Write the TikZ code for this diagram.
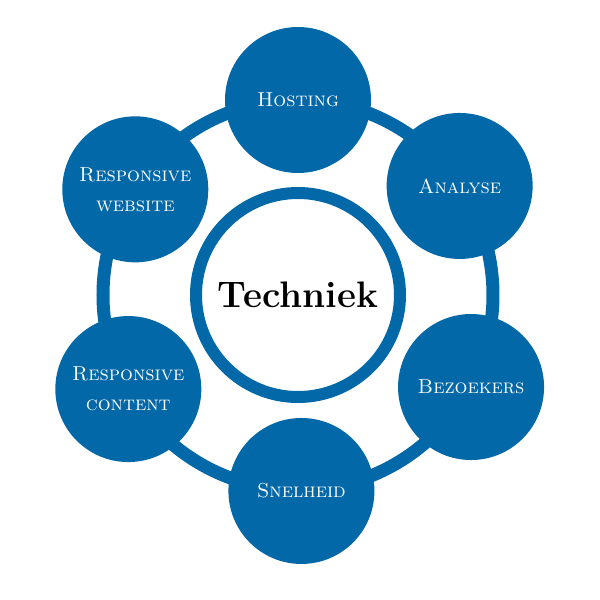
\documentclass[tikz,border=0pt]{standalone}
\usepackage{fontspec}
\usetikzlibrary{positioning}
\definecolor{techblue}{RGB}{2,104,168}

\begin{document}
\begin{tikzpicture}[topic/.style={circle, fill=techblue, text=white, minimum size=2.92cm, inner sep=0pt, align=center, font=\fontsize{11.5}{17}\selectfont\scshape}, hub/.style={circle, draw=techblue, line width=0.24cm, fill=white, minimum size=4.08cm, inner sep=0pt, font=\fontsize{21}{25}\selectfont\bfseries}]

\useasboundingbox (-5.96,-6.1) rectangle (6.04,5.9);

\coordinate (mid) at (0,0);
\draw[techblue, line width=0.26cm] (mid) circle (3.9);

\node[hub] at (mid) (techniek) {Techniek};

\node[topic] at (90:3.9) (hosting) {Hosting};
\node[topic] at (34:3.9) (analyse) {Analyse};
\node[topic] at (-28:3.92) (bezoekers) {Bezoekers};
\node[topic] at (-89:3.92) (snelheid) {Snelheid};
\node[topic] at (209:3.88) (content) {Responsive\\content};
\node[topic] at (147:3.88) (website) {Responsive\\website};
\end{tikzpicture}
\end{document}
